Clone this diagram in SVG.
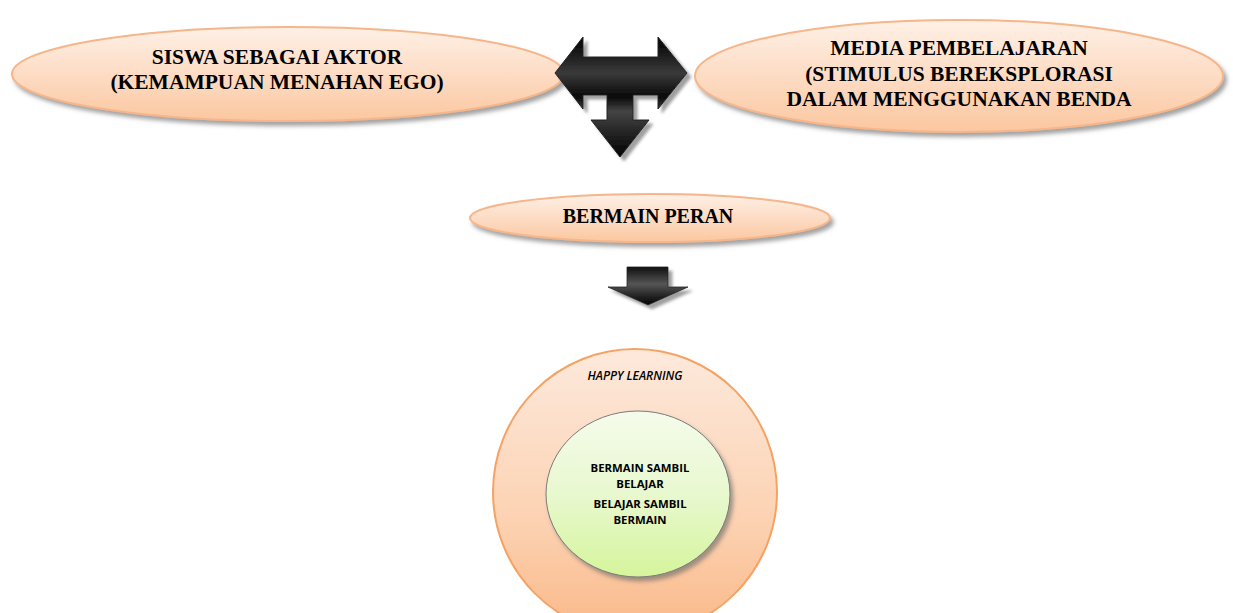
<svg xmlns="http://www.w3.org/2000/svg" width="1233" height="613" viewBox="0 0 1233 613">
<defs>
<linearGradient id="peach" x1="0" y1="0" x2="0" y2="1">
<stop offset="0" stop-color="#fef0e6"/>
<stop offset="0.5" stop-color="#fddcc4"/>
<stop offset="1" stop-color="#fbc7a0"/>
</linearGradient>
<linearGradient id="outerG" x1="0" y1="0" x2="0" y2="1">
<stop offset="0" stop-color="#fde9dc"/>
<stop offset="0.6" stop-color="#fcd2b2"/>
<stop offset="1" stop-color="#fab888"/>
</linearGradient>
<linearGradient id="greenG" x1="0" y1="0" x2="0" y2="1">
<stop offset="0" stop-color="#f5fbeb"/>
<stop offset="0.5" stop-color="#e8f8cf"/>
<stop offset="1" stop-color="#d5f59c"/>
</linearGradient>
<linearGradient id="dark" x1="0" y1="0" x2="0" y2="1">
<stop offset="0" stop-color="#000"/>
<stop offset="0.3" stop-color="#3a3a3a"/>
<stop offset="0.5" stop-color="#0a0a0a"/>
<stop offset="0.62" stop-color="#444"/>
<stop offset="1" stop-color="#000"/>
</linearGradient>
<linearGradient id="dark2" x1="0" y1="0" x2="0" y2="1">
<stop offset="0" stop-color="#111"/>
<stop offset="0.45" stop-color="#555"/>
<stop offset="1" stop-color="#000"/>
</linearGradient>
<filter id="sh" x="-10%" y="-20%" width="120%" height="150%">
<feDropShadow dx="3" dy="4" stdDeviation="2" flood-color="#666" flood-opacity="0.6"/>
</filter>
<filter id="sh2" x="-20%" y="-20%" width="150%" height="150%">
<feDropShadow dx="4" dy="4" stdDeviation="1.5" flood-color="#777" flood-opacity="0.7"/>
</filter>
</defs>
<style>
.el{fill:url(#peach);stroke:#f6b68a;stroke-width:2;filter:url(#sh)}
.tt{font-family:"Liberation Serif",serif;font-weight:bold;font-size:21.5px;fill:#000;text-anchor:middle}
.st{font-family:"Open Sans","Liberation Sans",sans-serif;font-weight:bold;font-size:11.4px;fill:#000;text-anchor:middle}
</style>
<rect width="1233" height="613" fill="#fff"/>
<g id="siswa">
<ellipse class="el" cx="288" cy="74" rx="276" ry="47"/>
<text class="tt" x="277" y="64">SISWA SEBAGAI AKTOR</text>
<text class="tt" x="277" y="89">(KEMAMPUAN MENAHAN EGO)</text>
</g>
<g id="media">
<ellipse class="el" cx="959" cy="76" rx="264" ry="56"/>
<text class="tt" x="959" y="55">MEDIA PEMBELAJARAN</text>
<text class="tt" x="959" y="81">(STIMULUS BEREKSPLORASI</text>
<text class="tt" x="959" y="106">DALAM MENGGUNAKAN BENDA</text>
</g>
<g id="connectors">
<polygon points="555,73 583,37 583,57 658,57 658,37 687,73 658,109 658,95 633,95 633,120 649,120 620,157 591,120 607,120 607,95 583,95 583,109" fill="url(#dark)" stroke="#222" stroke-width="1" filter="url(#sh2)"/>
<polygon points="627,267 668,267 668,287 688,287 648,305 608,287 627,287" fill="url(#dark2)" stroke="#222" stroke-width="0.8" filter="url(#sh2)"/>
</g>
<g id="bermain-peran">
<ellipse class="el" cx="650" cy="218" rx="180" ry="24"/>
<text class="tt" x="648" y="223" style="font-size:20px">BERMAIN PERAN</text>
</g>
<g id="happy-learning">
<ellipse cx="635" cy="492" rx="142" ry="143" fill="url(#outerG)" stroke="#f5a263" stroke-width="2"/>
<text class="st" x="635" y="380" font-style="italic" style="font-size:12px;font-weight:600">HAPPY LEARNING</text>
</g>
<g id="bermain-sambil">
<ellipse cx="638" cy="494" rx="92" ry="83" fill="url(#greenG)" stroke="#7a7a7a" stroke-width="1" filter="url(#sh)"/>
<text class="st" x="640" y="472">BERMAIN SAMBIL</text>
<text class="st" x="640" y="488">BELAJAR</text>
<text class="st" x="640" y="508">BELAJAR SAMBIL</text>
<text class="st" x="640" y="524">BERMAIN</text>
</g>
</svg>
